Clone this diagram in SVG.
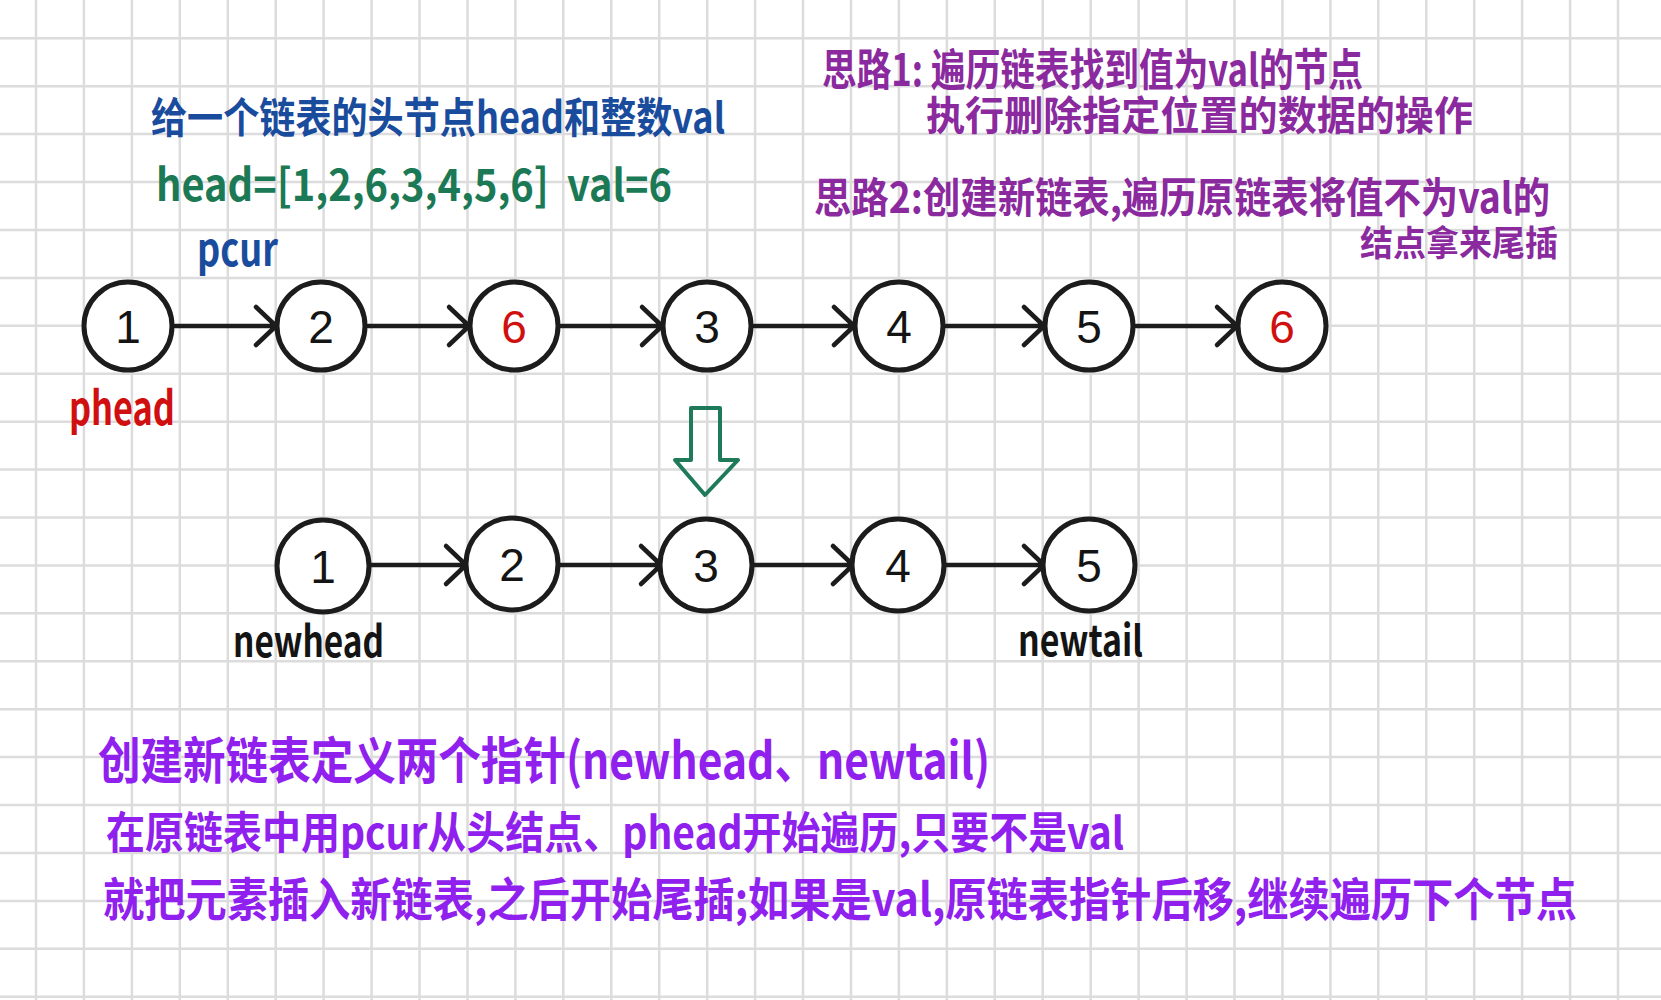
<svg xmlns="http://www.w3.org/2000/svg" width="1661" height="1000" viewBox="0 0 1661 1000">
<style>
.grid{stroke:#dcdcdc;stroke-width:2.5;fill:none}
.node circle{fill:#fff;stroke:#1c1c1c;stroke-width:5}
.node text{font-family:"Liberation Sans","Noto Sans",sans-serif;font-size:46px;text-anchor:middle;fill:#141414}
.node text.red{fill:#d01010}
.edge{stroke:#1c1c1c;stroke-width:4.5;fill:none;stroke-linecap:round;stroke-linejoin:round}
.cjk{font-family:"Noto Sans CJK SC","Noto Sans",sans-serif;font-weight:700}
.blue{fill:#1a4c9e}
.green{fill:#1b7a55}
.red{fill:#d01010}
.blk{fill:#141414}
.pur{fill:#8a2a9e}
.vio{fill:#9020ee}
</style>
<rect width="1661" height="1000" fill="#ffffff"/>
<g id="grid">
<path class="grid" d="M36 0V1000M83.9 0V1000M131.9 0V1000M179.8 0V1000M227.8 0V1000M275.7 0V1000M323.6 0V1000M371.6 0V1000M419.5 0V1000M467.5 0V1000M515.4 0V1000M563.3 0V1000M611.3 0V1000M659.2 0V1000M707.2 0V1000M755.1 0V1000M803 0V1000M851 0V1000M898.9 0V1000M946.9 0V1000M994.8 0V1000M1042.7 0V1000M1090.7 0V1000M1138.6 0V1000M1186.6 0V1000M1234.5 0V1000M1282.4 0V1000M1330.4 0V1000M1378.3 0V1000M1426.3 0V1000M1474.2 0V1000M1522.1 0V1000M1570.1 0V1000M1618 0V1000"/>
<path class="grid" d="M0 38.3H1661M0 86.2H1661M0 134.1H1661M0 182.1H1661M0 230H1661M0 277.9H1661M0 325.8H1661M0 373.7H1661M0 421.7H1661M0 469.6H1661M0 517.5H1661M0 565.4H1661M0 613.3H1661M0 661.3H1661M0 709.2H1661M0 757.1H1661M0 805H1661M0 852.9H1661M0 900.9H1661M0 948.8H1661M0 996.7H1661"/>
</g>

<g id="texts">
<text class="cjk blue" x="151" y="133" font-size="42" textLength="574" lengthAdjust="spacingAndGlyphs">给一个链表的头节点head和整数val</text>
<text class="cjk green" x="156" y="201" font-size="44" textLength="516" lengthAdjust="spacingAndGlyphs" xml:space="preserve">head=[1,2,6,3,4,5,6]  val=6</text>
<text class="cjk blue" x="197" y="266" font-size="46" font-weight="400" textLength="81" lengthAdjust="spacingAndGlyphs">pcur</text>
<text class="cjk pur" x="822" y="86" font-size="44" textLength="541" lengthAdjust="spacingAndGlyphs">思路1: 遍历链表找到值为val的节点</text>
<text class="cjk pur" x="926" y="130" font-size="40" textLength="547" lengthAdjust="spacingAndGlyphs">执行删除指定位置的数据的操作</text>
<text class="cjk pur" x="814" y="213" font-size="42" textLength="736" lengthAdjust="spacingAndGlyphs">思路2:创建新链表,遍历原链表将值不为val的</text>
<text class="cjk pur" x="1360" y="256" font-size="35" textLength="198" lengthAdjust="spacingAndGlyphs">结点拿来尾插</text>
<text class="cjk red" x="69" y="425" font-size="46" font-weight="400" textLength="106" lengthAdjust="spacingAndGlyphs">phead</text>
<text class="cjk blk" x="233" y="657" font-size="42" font-weight="400" textLength="151" lengthAdjust="spacingAndGlyphs">newhead</text>
<text class="cjk blk" x="1018" y="656" font-size="42" font-weight="400" textLength="125" lengthAdjust="spacingAndGlyphs">newtail</text>
<text class="cjk vio" x="98" y="779" font-size="50" textLength="892" lengthAdjust="spacingAndGlyphs">创建新链表定义两个指针(newhead、newtail)</text>
<text class="cjk vio" x="106" y="849" font-size="44" textLength="1018" lengthAdjust="spacingAndGlyphs">在原链表中用pcur从头结点、phead开始遍历,只要不是val</text>
<text class="cjk vio" x="103" y="916" font-size="46" textLength="1474" lengthAdjust="spacingAndGlyphs">就把元素插入新链表,之后开始尾插;如果是val,原链表指针后移,继续遍历下个节点</text>
</g>

<g id="connectors">
<path class="edge" d="M175 326H274M256 307L276 326L256 345"/>
<path class="edge" d="M368 326H467M449 307L469 326L449 345"/>
<path class="edge" d="M561 326H660M642 307L662 326L642 345"/>
<path class="edge" d="M754 326H852M834 307L854 326L834 345"/>
<path class="edge" d="M946 326H1042M1024 307L1044 326L1024 345"/>
<path class="edge" d="M1136 326H1235M1217 307L1237 326L1217 345"/>
<path class="edge" d="M371 565H464M446 546L466 565L446 584"/>
<path class="edge" d="M560 565H659M641 546L661 565L641 584"/>
<path class="edge" d="M754 565H851M833 546L853 565L833 584"/>
<path class="edge" d="M946 565H1042M1024 546L1044 565L1024 584"/>
<path d="M691 408H720V460H738L705 495L675 460H691Z" fill="none" stroke="#1f7a5a" stroke-width="4" stroke-linejoin="round"/>
</g>

<g id="n1" class="node"><circle cx="128" cy="326" r="44"/><text x="128" y="343">1</text></g>
<g id="n2" class="node"><circle cx="321" cy="326" r="44"/><text x="321" y="343">2</text></g>
<g id="n3" class="node"><circle cx="514" cy="326" r="44"/><text class="red" x="514" y="343">6</text></g>
<g id="n4" class="node"><circle cx="707" cy="326" r="44"/><text x="707" y="343">3</text></g>
<g id="n5" class="node"><circle cx="899" cy="326" r="44"/><text x="899" y="343">4</text></g>
<g id="n6" class="node"><circle cx="1089" cy="326" r="44"/><text x="1089" y="343">5</text></g>
<g id="n7" class="node"><circle cx="1282" cy="326" r="44"/><text class="red" x="1282" y="343">6</text></g>

<g id="m1" class="node"><circle cx="323" cy="566" r="46"/><text x="323" y="583">1</text></g>
<g id="m2" class="node"><circle cx="512" cy="564" r="46"/><text x="512" y="581">2</text></g>
<g id="m3" class="node"><circle cx="706" cy="565" r="46"/><text x="706" y="582">3</text></g>
<g id="m4" class="node"><circle cx="898" cy="565" r="46"/><text x="898" y="582">4</text></g>
<g id="m5" class="node"><circle cx="1089" cy="565" r="46"/><text x="1089" y="582">5</text></g>
</svg>
